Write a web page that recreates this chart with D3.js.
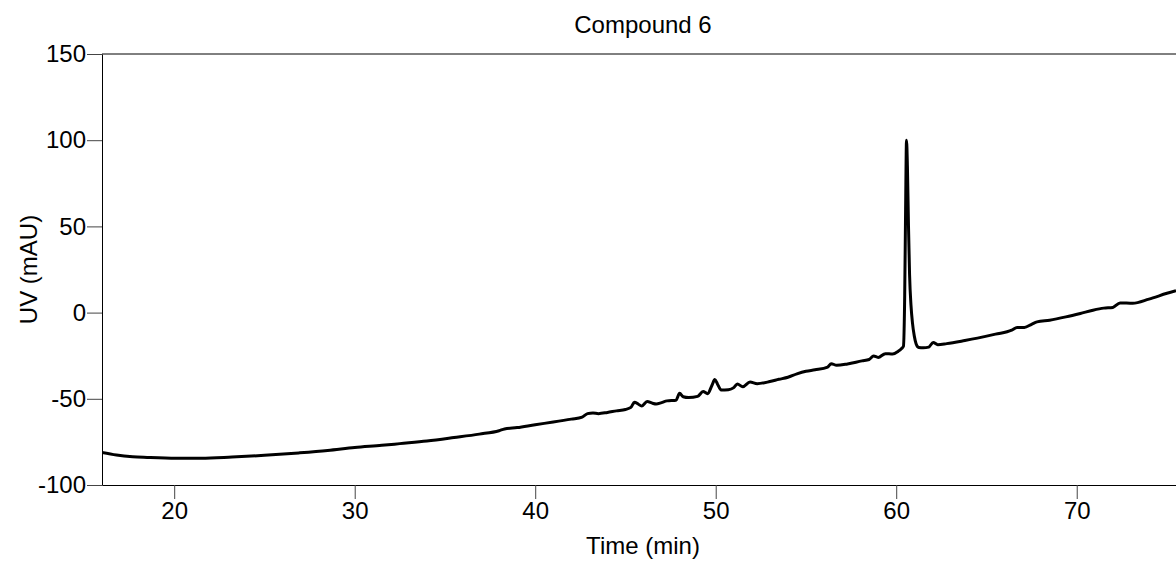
<!DOCTYPE html>
<html>
<head>
<meta charset="utf-8">
<script src="https://cdn.jsdelivr.net/npm/d3@7"></script>
<style>
  body { margin: 0; background: #fff; overflow: hidden; }
  svg { display: block; font-family: "Liberation Sans", Arial, sans-serif; }
  .axis text { font-size: 24px; fill: #000; }
  .axis line { stroke: #444; }
  .axis path { stroke: #000; }
</style>
</head>
<body>
<svg></svg>
<script>
const width = 1176, height = 561;
const margin = { top: 54, right: 0, bottom: 76, left: 102 };
const innerWidth = width - margin.left - margin.right;
const innerHeight = height - margin.top - margin.bottom;

const title = "Compound 6";
const xLabel = "Time (min)";
const yLabel = "UV (mAU)";
const xTicks = [20, 30, 40, 50, 60, 70];
const yTicks = [-100, -50, 0, 50, 100, 150];

// chromatogram trace
const time = [16.0, 16.8, 17.7, 18.5, 20.1, 21.5, 23.2, 25.0, 26.9, 28.5, 30.0, 31.5, 32.5, 34.0, 35.5,
  36.9, 38.0, 38.3, 39.0, 40.0, 41.0, 42.0, 42.6, 42.9, 43.2, 43.5, 44.0, 44.5, 45.0, 45.3, 45.5, 45.7,
  45.9, 46.2, 46.5, 46.7, 47.0, 47.3, 47.8, 48.0, 48.2, 48.5, 49.0, 49.3, 49.55, 49.8, 49.95, 50.1,
  50.3, 50.7, 51.0, 51.2, 51.5, 51.9, 52.3, 53.0, 53.5, 54.0, 54.5, 55.0, 55.5, 56.2, 56.4, 56.7,
  57.3, 58.1, 58.5, 58.75, 59.0, 59.4, 59.8, 60.1, 60.3, 60.4, 60.47, 60.52, 60.57, 60.62, 60.68,
  60.74, 60.82, 60.9, 61.0, 61.1, 61.25, 61.5, 61.8, 62.05, 62.3, 62.8, 63.8, 64.5, 65.5, 66.4,
  66.7, 67.1, 67.5, 67.8, 68.5, 69.4, 70.2, 70.9, 71.5, 72.0, 72.4, 73.1, 74.0, 75.0, 75.5];
const uv = [-81.1, -82.6, -83.6, -84.0, -84.5, -84.5, -83.8, -82.8, -81.4, -80.0, -78.3, -77.0, -76.0, -74.5, -72.5,
  -70.5, -68.5, -67.5, -66.7, -65.0, -63.5, -61.8, -60.6, -58.6, -58.2, -58.6, -57.9, -57.0, -56.2, -55.0, -52.0, -53.0,
  -54.2, -51.6, -52.6, -53.0, -52.2, -51.2, -50.8, -46.8, -48.8, -49.3, -48.6, -45.8, -47.0, -42.0, -38.8, -41.5,
  -44.9, -44.7, -43.5, -41.4, -43.0, -40.3, -41.2, -40.0, -38.7, -37.5, -35.5, -34.0, -33.2, -31.6, -29.6, -30.6,
  -29.8, -28.0, -27.2, -25.2, -26.0, -23.8, -24.0, -22.5, -20.8, -19.5, 10, 60, 100, 85, 50,
  22, 4, -6, -13.5, -18, -20.2, -20.4, -20.0, -17.3, -18.6, -18.0, -16.2, -14.8, -12.5, -10.2,
  -8.6, -8.6, -6.8, -5.4, -4.4, -2.5, -0.5, 1.4, 2.6, 3.0, 5.6, 5.4, 7.8, 11.2, 12.7];

const data = time.map((t, i) => ({ t, v: uv[i] }));

const svg = d3.select("svg")
    .attr("width", width)
    .attr("height", height);

const g = svg.append("g")
    .attr("transform", `translate(${margin.left},${margin.top})`);

const xScale = d3.scaleLinear().domain([16, 75.5]).range([0, innerWidth]);
const yScale = d3.scaleLinear().domain([-100, 150]).range([innerHeight, 0]);

svg.append("defs").append("clipPath")
    .attr("id", "plot-clip")
  .append("rect")
    .attr("width", innerWidth)
    .attr("height", innerHeight);

// frame top line
g.append("line")
    .attr("x1", 0).attr("x2", innerWidth)
    .attr("y1", 0).attr("y2", 0)
    .attr("stroke", "#000");

const xAxis = d3.axisBottom(xScale).tickValues(xTicks).tickSize(14).tickSizeOuter(0).tickPadding(3)
    .tickFormat(d => String(d));
const yAxis = d3.axisLeft(yScale).tickValues(yTicks).tickSize(15).tickSizeOuter(0).tickPadding(1)
    .tickFormat(d => String(d));

g.append("g")
    .attr("class", "axis x-axis")
    .attr("transform", `translate(0,${innerHeight})`)
    .call(xAxis);

g.append("g")
    .attr("class", "axis y-axis")
    .call(yAxis);

const line = d3.line()
    .x(d => xScale(d.t))
    .y(d => yScale(d.v))
    .curve(d3.curveMonotoneX);

g.append("path")
    .datum(data)
    .attr("clip-path", "url(#plot-clip)")
    .attr("fill", "none")
    .attr("stroke", "#000")
    .attr("stroke-width", 3)
    .attr("stroke-linejoin", "round")
    .attr("d", line);

svg.append("text")
    .attr("x", 643)
    .attr("y", 33)
    .attr("text-anchor", "middle")
    .attr("font-size", 24)
    .text(title);

svg.append("text")
    .attr("x", 643)
    .attr("y", 554)
    .attr("text-anchor", "middle")
    .attr("font-size", 24)
    .text(xLabel);

svg.append("text")
    .attr("transform", `translate(37,${margin.top + innerHeight / 2}) rotate(-90)`)
    .attr("text-anchor", "middle")
    .attr("font-size", 24)
    .text(yLabel);
</script>
</body>
</html>
